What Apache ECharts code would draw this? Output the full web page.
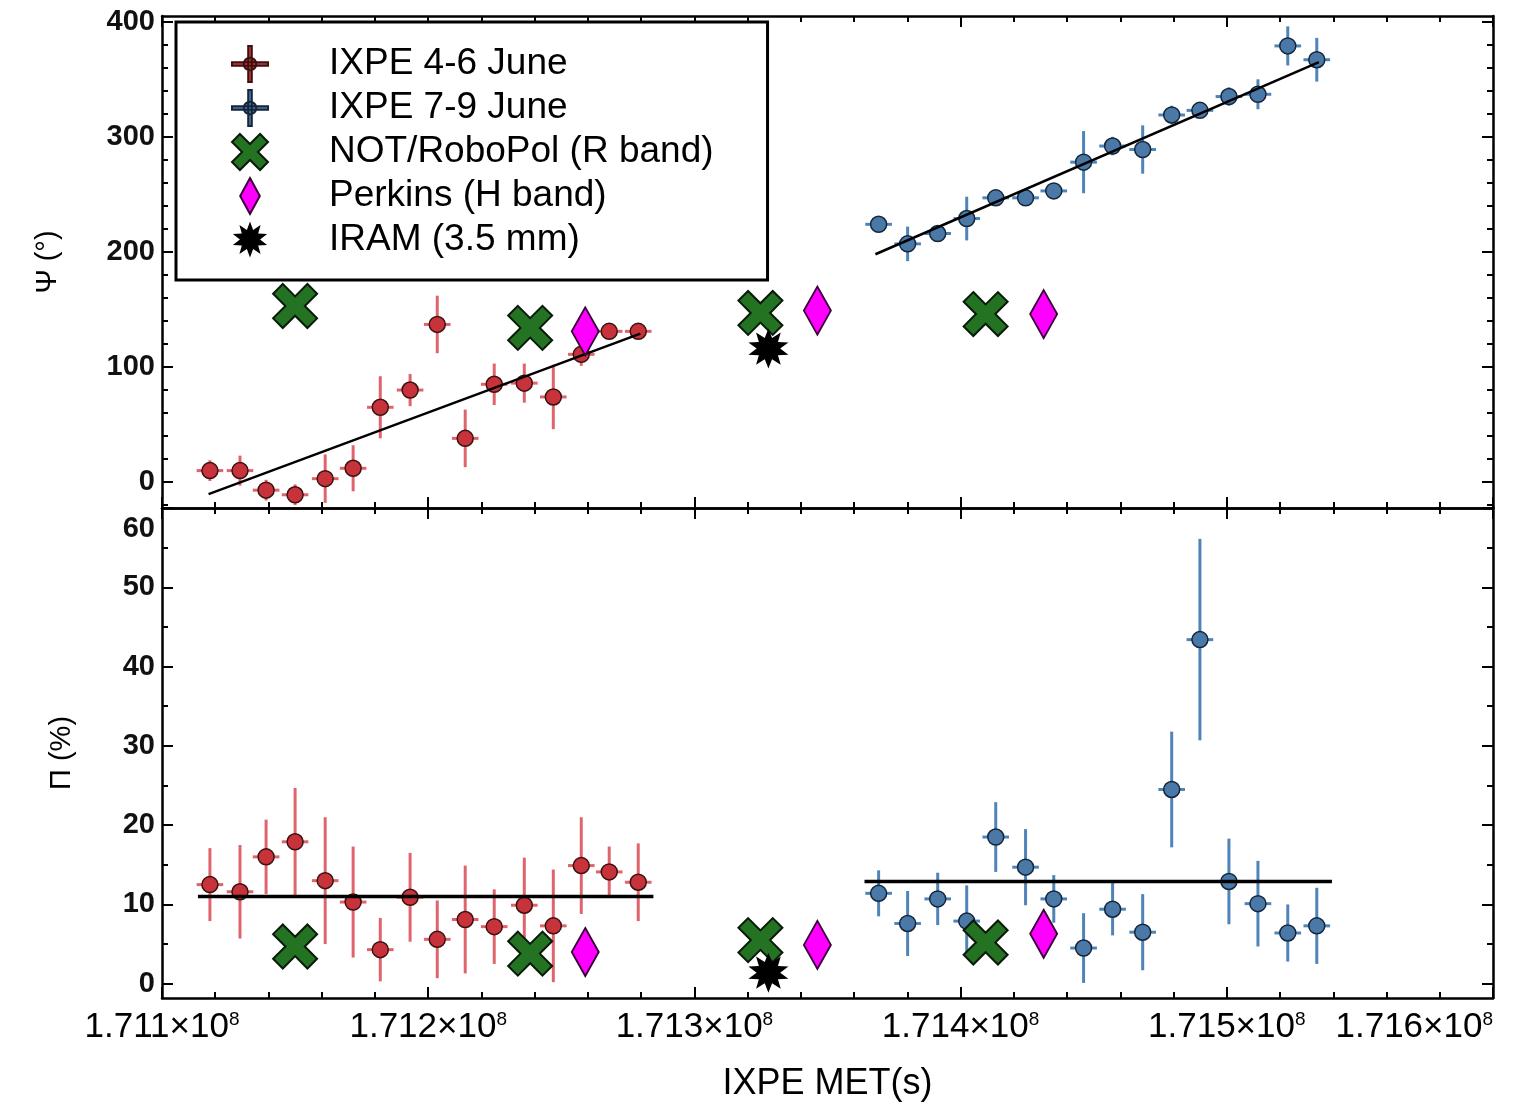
<!DOCTYPE html>
<html>
<head>
<meta charset="utf-8">
<title>IXPE polarization</title>
<script src="https://cdn.jsdelivr.net/npm/echarts@6/dist/echarts.min.js"></script>
<style>
  html, body { margin: 0; padding: 0; background: #fff; }
  #chart { width: 1528px; height: 1108px; }
</style>
</head>
<body>
<div id="chart"></div>
<script>
// IXPE 4-6 June (MET in s, angle in deg, degree in %)
const redMET = [171118000, 171129300, 171139100, 171150000, 171161300, 171171800, 171182000, 171193200,
  171203400, 171213900, 171224800, 171236100, 171247000, 171257500, 171268000, 171278900];
const redPsi = [10, 10, -7, -11, 3, 12, 65, 80, 137, 38, 85, 86, 74, 111, 131, 131];
const redPsiErr = [9, 13, 9, 9, 21, 20, 27, 14, 25, 25, 18, 17, 28, 10, 6, 6];
const redPi = [12.5, 11.6, 16, 17.9, 13, 10.3, 4.3, 10.9, 5.6, 8.1, 7.2, 9.9, 7.3, 14.9, 14.1, 12.8];
const redPiErr = [4.6, 5.9, 4.7, 6.8, 8, 7, 4, 5.6, 4.9, 6.8, 4.7, 6, 7.1, 6.1, 3.2, 4.9];

// IXPE 7-9 June
const blueMET = [171369200, 171380100, 171391400, 171402300, 171413200, 171424400, 171435000, 171446200,
  171457100, 171468400, 171479300, 171489900, 171500800, 171511700, 171522900, 171533800];
const bluePsi = [224, 207, 216, 229, 247, 247, 253, 278, 292, 289, 319, 323, 335, 337, 379, 367];
const bluePsiErr = [5, 15, 6, 19, 5, 5, 5, 27, 8, 21, 8, 5, 8, 13, 17, 19];
const bluePi = [11.4, 7.6, 10.7, 7.9, 18.5, 14.7, 10.7, 4.5, 9.4, 6.5, 24.5, 43.4, 12.9, 10.1, 6.4, 7.3];
const bluePiErr = [2.9, 4.1, 3.3, 4.5, 4.4, 4.8, 3, 4.4, 3.3, 4.8, 7.3, 12.7, 5.4, 5.4, 3.6, 4.8];

const binHalfWidth = 5000;

// optical / IR / mm points
const notMET = [171150000, 171238300, 171324800, 171409400];
const notPsi = [153, 134, 147, 146];
const notPi = [4.7, 3.8, 5.5, 5.2];
const perkinsMET = [171259000, 171346200, 171431200];
const perkinsPsi = [131, 149, 146];
const perkinsPi = [4.0, 4.9, 6.3];
const iramMET = [171327800];
const iramPsi = [116];
const iramPi = [1.4];

// fits
const redFitMET = [171117500, 171279700];
const redFitPsi = [-10.5, 129];
const blueFitMET = [171368000, 171534600];
const blueFitPsi = [198, 365];
const redMeanMET = [171113500, 171284600];
const redMeanPi = [11.0, 11.0];
const blueMeanMET = [171363900, 171539500];
const blueMeanPi = [12.9, 12.9];

// tick values
const psiTicks = [0, 100, 200, 300, 400];
const psiMinorTicks = [-20, 20, 40, 60, 80, 120, 140, 160, 180, 220, 240, 260, 280, 320, 340, 360, 380];
const piTicks = [0, 10, 20, 30, 40, 50, 60];
const piMinorTicks = [5, 15, 25, 35, 45, 55];

const FONT = 'Liberation Sans';
const RED = '#c8323a', RED_BAR = '#e0646c', RED_EDGE = '#3a1212';
const BLUE = '#4a79a8', BLUE_BAR = '#4f84b8', BLUE_EDGE = '#16263a';
const GREEN = '#237323', MAGENTA = '#ff00ff';

const xPath = 'path://M22,0 L50,28 L78,0 L100,22 L72,50 L100,78 L78,100 L50,72 L22,100 L0,78 L28,50 L0,22 Z';
const ixpeIcon = 'path://M18,0 H22 V40 H18 Z M0,18 H40 V22 H0 Z M27,20 A7,7 0 1,1 13,20 A7,7 0 1,1 27,20 Z';

function starPath (n, R, r) {
  let d = ''
  for (let i = 0; i < 2 * n; i++) {
    const a = Math.PI * i / n - Math.PI / 2
    const rad = i % 2 ? r : R
    d += (i ? 'L' : 'M') + (50 + rad * Math.cos(a)).toFixed(1) + ',' + (50 + rad * Math.sin(a)).toFixed(1)
  }
  return 'path://' + d + 'Z'
}
const starSym = starPath(10, 50, 28);

function zip (xs, ys) {
  return xs.map((x, i) => [x, ys[i]])
}
function withErr (xs, ys, es) {
  return xs.map((x, i) => [x, ys[i], binHalfWidth, es[i]])
}

function errorBars (fill, bar, edge) {
  return function (params, api) {
    const x = api.value(0), y = api.value(1), ex = api.value(2), ey = api.value(3)
    const c = api.coord([x, y])
    const t = api.coord([x, y + ey]), b = api.coord([x, y - ey])
    const l = api.coord([x - ex, y]), r = api.coord([x + ex, y])
    return {
      type: 'group',
      children: [
        { type: 'line', shape: { x1: t[0], y1: t[1], x2: b[0], y2: b[1] }, style: { stroke: bar, lineWidth: 3 } },
        { type: 'line', shape: { x1: l[0], y1: l[1], x2: r[0], y2: r[1] }, style: { stroke: bar, lineWidth: 3 } },
        { type: 'circle', shape: { cx: c[0], cy: c[1], r: 8 }, style: { fill: fill, stroke: edge, lineWidth: 1.5 } }
      ]
    }
  }
}

const tickStyle = { color: '#000', width: 2 };
const lineStyleAxis = { show: true, onZero: false, lineStyle: { color: '#000', width: 2.5 } };

function xAxisFor (grid, pos, labels) {
  return {
    type: 'value', gridIndex: grid, position: pos,
    min: 171100000, max: 171600000, interval: 100000,
    axisLine: lineStyleAxis,
    axisTick: { inside: true, length: 11, lineStyle: tickStyle },
    minorTick: { show: true, splitNumber: 5, length: 6, lineStyle: tickStyle },
    splitLine: { show: false },
    axisLabel: labels ? {
      show: true, margin: 12, alignMaxLabel: 'right',
      formatter: function (v) { return '{a|' + (v / 1e8).toFixed(3) + '×10}{s|8}' },
      rich: {
        a: { fontFamily: FONT, fontSize: 35, color: '#000' },
        s: { fontFamily: FONT, fontSize: 19, color: '#000', verticalAlign: 'top' }
      }
    } : { show: false },
    name: labels ? 'IXPE MET(s)' : '',
    nameLocation: 'middle', nameGap: 68,
    nameTextStyle: { fontFamily: FONT, fontSize: 36, color: '#000' }
  }
}

function yAxisFor (grid, pos, min, max, ticks, len, opts) {
  const o = {
    type: 'value', gridIndex: grid, position: pos, min: min, max: max,
    axisLine: opts.line ? lineStyleAxis : { show: false },
    axisTick: { inside: true, length: len, lineStyle: tickStyle, customValues: ticks },
    splitLine: { show: false },
    axisLabel: { show: false }
  }
  if (opts.labels) {
    o.axisLabel = {
      show: true, margin: 7, customValues: ticks,
      fontFamily: FONT, fontSize: 29, fontWeight: 'bold', color: '#111',
      formatter: opts.formatter,
      rich: opts.rich
    }
    o.name = opts.name
    o.nameLocation = 'middle'
    o.nameGap = opts.nameGap
    o.nameTextStyle = { fontFamily: FONT, fontSize: 29, color: '#000' }
  }
  return o
}

const option = {
  backgroundColor: '#fff',
  animation: false,
  grid: [
    { left: 162, right: 35, top: 16, height: 492 },
    { left: 162, right: 35, top: 508, height: 490 }
  ],
  legend: {
    left: 176, top: 22, orient: 'vertical',
    backgroundColor: '#fff', borderColor: '#000', borderWidth: 3, borderRadius: 0,
    padding: [23, 54, 22, 55],
    itemWidth: 40, itemHeight: 36, itemGap: 6,
    textStyle: { fontFamily: FONT, fontSize: 37, color: '#000', lineHeight: 36, padding: [0, 0, 0, 54] },
    data: [
      { name: 'IXPE 4-6 June', icon: ixpeIcon },
      { name: 'IXPE 7-9 June', icon: ixpeIcon },
      { name: 'NOT/RoboPol (R band)' },
      { name: 'Perkins (H band)', icon: 'path://M12,0 L24,22 L12,44 L0,22 Z' },
      { name: 'IRAM (3.5 mm)' }
    ],
    z: 10
  },
  xAxis: [
    xAxisFor(0, 'bottom', false),
    xAxisFor(0, 'top', false),
    xAxisFor(1, 'bottom', true),
    xAxisFor(1, 'top', false)
  ],
  yAxis: [
    yAxisFor(0, 'left', -22.5, 405, psiTicks, 11, { line: true, labels: true, name: 'Ψ (°)', nameGap: 100 }),
    yAxisFor(0, 'right', -22.5, 405, psiTicks, 11, { line: true }),
    yAxisFor(0, 'left', -22.5, 405, psiMinorTicks, 6, {}),
    yAxisFor(0, 'right', -22.5, 405, psiMinorTicks, 6, {}),
    yAxisFor(1, 'left', -1.8, 60, piTicks, 11, {
      line: true, labels: true, name: 'Π (%)', nameGap: 86,
      formatter: function (v) { return v === 60 ? '{lo|60}' : String(v) },
      rich: { lo: { fontFamily: FONT, fontSize: 29, fontWeight: 'bold', color: '#111', padding: [42, 0, 0, 0] } }
    }),
    yAxisFor(1, 'right', -1.8, 60, piTicks, 11, { line: true }),
    yAxisFor(1, 'left', -1.8, 60, piMinorTicks, 6, {}),
    yAxisFor(1, 'right', -1.8, 60, piMinorTicks, 6, {})
  ],
  series: [
    // angle panel
    { name: 'IXPE 4-6 June', type: 'custom', xAxisIndex: 0, yAxisIndex: 0, z: 3,
      itemStyle: { color: RED, borderColor: RED_EDGE, borderWidth: 1 },
      renderItem: errorBars(RED, RED_BAR, RED_EDGE), encode: { x: 0, y: 1 },
      data: withErr(redMET, redPsi, redPsiErr) },
    { name: 'IXPE 7-9 June', type: 'custom', xAxisIndex: 0, yAxisIndex: 0, z: 3,
      itemStyle: { color: BLUE, borderColor: BLUE_EDGE, borderWidth: 1 },
      renderItem: errorBars(BLUE, BLUE_BAR, BLUE_EDGE), encode: { x: 0, y: 1 },
      data: withErr(blueMET, bluePsi, bluePsiErr) },
    { name: 'fitR', type: 'line', xAxisIndex: 0, yAxisIndex: 0, z: 4, silent: true, showSymbol: false,
      lineStyle: { color: '#000', width: 2.5 }, data: zip(redFitMET, redFitPsi) },
    { name: 'fitB', type: 'line', xAxisIndex: 0, yAxisIndex: 0, z: 4, silent: true, showSymbol: false,
      lineStyle: { color: '#000', width: 2.5 }, data: zip(blueFitMET, blueFitPsi) },
    { name: 'NOT/RoboPol (R band)', type: 'scatter', xAxisIndex: 0, yAxisIndex: 0, z: 5,
      symbol: xPath, symbolSize: 44,
      itemStyle: { color: GREEN, borderColor: '#0a1a0a', borderWidth: 2, opacity: 1 },
      data: zip(notMET, notPsi) },
    { name: 'Perkins (H band)', type: 'scatter', xAxisIndex: 0, yAxisIndex: 0, z: 5,
      symbol: 'diamond', symbolSize: [27, 48],
      itemStyle: { color: MAGENTA, borderColor: '#3a003a', borderWidth: 2, opacity: 1 },
      data: zip(perkinsMET, perkinsPsi) },
    { name: 'IRAM (3.5 mm)', type: 'scatter', xAxisIndex: 0, yAxisIndex: 0, z: 5,
      symbol: starSym, symbolSize: 40,
      itemStyle: { color: '#000', opacity: 1 },
      data: zip(iramMET, iramPsi) },

    // degree panel
    { name: 'IXPE 4-6 June', type: 'custom', xAxisIndex: 2, yAxisIndex: 4, z: 3,
      itemStyle: { color: RED, borderColor: RED_EDGE, borderWidth: 1 },
      renderItem: errorBars(RED, RED_BAR, RED_EDGE), encode: { x: 0, y: 1 },
      data: withErr(redMET, redPi, redPiErr) },
    { name: 'IXPE 7-9 June', type: 'custom', xAxisIndex: 2, yAxisIndex: 4, z: 3,
      itemStyle: { color: BLUE, borderColor: BLUE_EDGE, borderWidth: 1 },
      renderItem: errorBars(BLUE, BLUE_BAR, BLUE_EDGE), encode: { x: 0, y: 1 },
      data: withErr(blueMET, bluePi, bluePiErr) },
    { name: 'meanR', type: 'line', xAxisIndex: 2, yAxisIndex: 4, z: 4, silent: true, showSymbol: false,
      lineStyle: { color: '#000', width: 3.5 }, data: zip(redMeanMET, redMeanPi) },
    { name: 'meanB', type: 'line', xAxisIndex: 2, yAxisIndex: 4, z: 4, silent: true, showSymbol: false,
      lineStyle: { color: '#000', width: 3.5 }, data: zip(blueMeanMET, blueMeanPi) },
    { name: 'NOT/RoboPol (R band)', type: 'scatter', xAxisIndex: 2, yAxisIndex: 4, z: 5,
      symbol: xPath, symbolSize: 44,
      itemStyle: { color: GREEN, borderColor: '#0a1a0a', borderWidth: 2, opacity: 1 },
      data: zip(notMET, notPi) },
    { name: 'Perkins (H band)', type: 'scatter', xAxisIndex: 2, yAxisIndex: 4, z: 5,
      symbol: 'diamond', symbolSize: [27, 48],
      itemStyle: { color: MAGENTA, borderColor: '#3a003a', borderWidth: 2, opacity: 1 },
      data: zip(perkinsMET, perkinsPi) },
    { name: 'IRAM (3.5 mm)', type: 'scatter', xAxisIndex: 2, yAxisIndex: 4, z: 5,
      symbol: starSym, symbolSize: 40,
      itemStyle: { color: '#000', opacity: 1 },
      data: zip(iramMET, iramPi) }
  ]
};

const myChart = echarts.init(document.getElementById('chart'))
myChart.setOption(option)
</script>
</body>
</html>
